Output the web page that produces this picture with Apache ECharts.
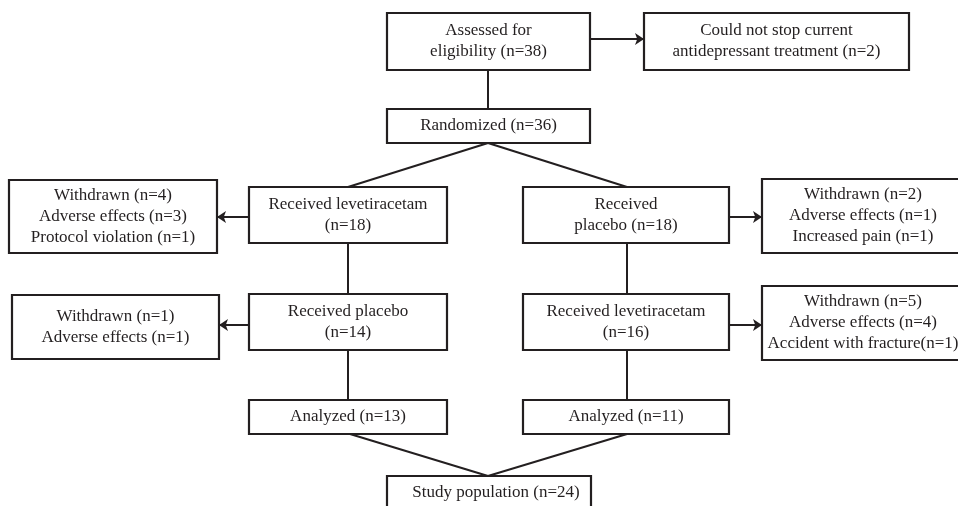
<!DOCTYPE html>
<html lang="en">
<head>
    <meta charset="utf-8" />
    <title>Flow chart</title>
    <style>
        html, body { margin: 0; padding: 0; background: #fff; }
        #main { width: 958px; height: 506px; }
    </style>
</head>
<body>
    <div id="main"></div>
    <script src="https://cdn.jsdelivr.net/npm/echarts@6/dist/echarts.min.js"></script>
    <script type="text/javascript">
        // box texts
        var labels = [
            'Assessed for\neligibility (n=38)',
            'Could not stop current\nantidepressant treatment (n=2)',
            'Randomized (n=36)',
            'Received levetiracetam\n(n=18)',
            'Received\nplacebo (n=18)',
            'Withdrawn (n=4)\nAdverse effects (n=3)\nProtocol violation (n=1)',
            'Withdrawn (n=2)\nAdverse effects (n=1)\nIncreased pain (n=1)',
            'Received placebo\n(n=14)',
            'Received levetiracetam\n(n=16)',
            'Withdrawn (n=1)\nAdverse effects (n=1)',
            'Withdrawn (n=5)\nAdverse effects (n=4)\nAccident with fracture(n=1)',
            'Analyzed (n=13)',
            'Analyzed (n=11)',
            'Study population (n=24)'
        ];

        // box layout in page units: x0, y0, x1, y1
        var boxes = [
            [387, 13, 590, 70],
            [644, 13, 909, 70],
            [387, 109, 590, 143],
            [249, 187, 447, 243],
            [523, 187, 729, 243],
            [9, 180, 217, 253],
            [762, 179, 964, 253],
            [249, 294, 447, 350],
            [523, 294, 729, 350],
            [12, 295, 219, 359],
            [762, 286, 964, 360],
            [249, 400, 447, 434],
            [523, 400, 729, 434],
            [387, 476, 591, 530]
        ];

        // connectors: from, to, arrow
        var links = [
            [[488, 70], [488, 109], false],
            [[590, 39], [644, 39], true],
            [[488, 143], [348, 187], false],
            [[488, 143], [627, 187], false],
            [[249, 217], [217, 217], true],
            [[729, 217], [762, 217], true],
            [[348, 243], [348, 294], false],
            [[627, 243], [627, 294], false],
            [[249, 325], [219, 325], true],
            [[729, 325], [762, 325], true],
            [[348, 350], [348, 400], false],
            [[627, 350], [627, 400], false],
            [[350, 434], [488, 476], false],
            [[627, 434], [488, 476], false]
        ];

        var ink = '#231f20';
        var chart = echarts.init(document.getElementById('main'));

        var boxData = boxes.map(function (b, i) {
            return [b[0], b[1], b[2], b[3], i];
        });

        var option = {
            animation: false,
            backgroundColor: '#fff',
            grid: { left: 0, right: 0, top: 0, bottom: 0 },
            xAxis: { type: 'value', min: 0, max: 958, show: false },
            yAxis: { type: 'value', min: 0, max: 506, inverse: true, show: false },
            series: [{
                type: 'lines',
                coordinateSystem: 'cartesian2d',
                z: 1,
                lineStyle: { color: ink, width: 2, opacity: 1 },
                data: links.map(function (l) {
                    return {
                        coords: [l[0], l[1]],
                        symbol: l[2] ? ['none', 'arrow'] : ['none', 'none'],
                        symbolSize: 9
                    };
                })
            }, {
                type: 'custom',
                z: 2,
                encode: { x: [0, 2], y: [1, 3] },
                data: boxData,
                renderItem: function (params, api) {
                    var p0 = api.coord([api.value(0), api.value(1)]);
                    var p1 = api.coord([api.value(2), api.value(3)]);
                    var idx = api.value(4);
                    var cx = (p0[0] + p1[0]) / 2;
                    var cy = (p0[1] + p1[1]) / 2;
                    // last box runs off the page, keep its text near the top
                    if (idx === 13) { cx += 7; cy = p0[1] + 17; }
                    return {
                        type: 'group',
                        children: [{
                            type: 'rect',
                            shape: { x: p0[0], y: p0[1], width: p1[0] - p0[0], height: p1[1] - p0[1] },
                            style: { fill: '#fff', stroke: ink, lineWidth: 2.2 }
                        }, {
                            type: 'text',
                            style: {
                                text: labels[idx],
                                x: cx,
                                y: cy,
                                align: 'center',
                                verticalAlign: 'middle',
                                font: '17px "Liberation Serif"',
                                lineHeight: 21,
                                fill: ink
                            }
                        }]
                    };
                }
            }]
        };

        chart.setOption(option);
    </script>
</body>
</html>
